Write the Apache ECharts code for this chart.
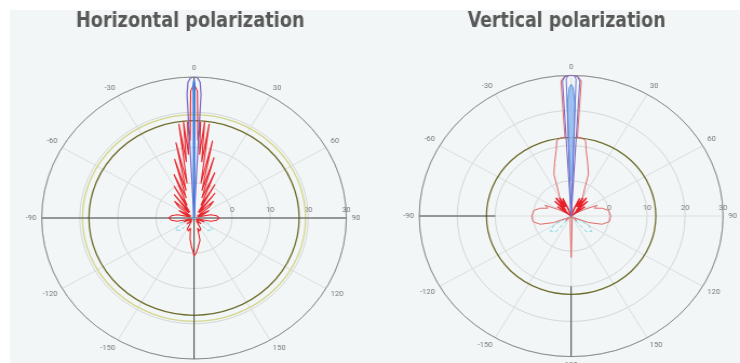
<!DOCTYPE html>
<html>
<head>
<meta charset="utf-8">
<script src="https://cdn.jsdelivr.net/npm/echarts@6/dist/echarts.min.js"></script>
<style>
html,body{margin:0;padding:0;background:#fff;overflow:hidden;}
#wrap{width:740px;height:363px;overflow:hidden;}
#chart{width:685px;height:363px;transform:scaleX(1.0803);transform-origin:0 0;}
</style>
</head>
<body>
<div id="wrap"><div id="chart"></div></div>
<script>
// ---------- data (angles in degrees, 0 = up, clockwise; radius in dB) ----------
const titles = ['Horizontal polarization', 'Vertical polarization'];
const angleTicks = [0, 30, 60, 90, 120, 150, 180, -150, -120, -90, -60, -30];
const radiusTicks = [-10, 0, 10, 20, 30];

// Horizontal polarization
const hPurple = [[-3.6,-10],[-3,25],[-2.4,28.5],[-1.5,29.6],[-0.6,30],[0,30],[0.6,30],[1.5,29.6],[2.4,28.5],[3,25],[3.6,-10]];
const hBlue = [[-0.5,-10],[-0.2,28],[0,29],[0.2,28],[0.5,-10]];
const hRed = [[-180,0.8],[-178.5,-0.5],[-177,0],[-175,-2],[-173,-1.5],[-170,-4],[-166,-3.5],[-162,-7],[-158,-6],[-150,-6.5],[-142,-9],[-132,-7.5],[-122,-9.5],[-112,-7],[-106,-9],[-102,-5.5],[-96,-4],[-90,-3.4],[-84,-4],[-78,-5.5],[-72,-9],[-66,-7],[-62,-5.5],[-57,-9],[-52,-5],[-47,-3],[-43,-8],[-38,-1.5],[-34,-8],[-30,0.5],[-27,-6],[-23,3.5],[-20,-4],[-17,7.5],[-15,-2],[-12.5,12],[-10.5,0],[-8.5,17],[-7.2,6],[-5.8,17.6],[-4.6,8],[-3.6,17.3],[-2.6,12],[-1.4,26],[0,28],[1.4,26],[2.6,12],[3.6,17.3],[4.6,8],[5.8,17.6],[7.2,6],[8.5,17],[10.5,0],[12.5,12.5],[15,-2],[17,8],[20,-4],[23,4],[27,-6],[30,1],[34,-8],[38,-1],[43,-8],[47,-3],[52,-5],[57,-9],[62,-5.5],[66,-7],[72,-9],[78,-5.5],[84,-4],[90,-3.4],[96,-4],[102,-5.5],[106,-9],[112,-7],[122,-9.5],[132,-7.5],[142,-9],[150,-6.5],[158,-6],[162,-7],[166,-3.5],[170,-4],[173,-1.5],[175,-2],[177,0],[178.5,-0.5],[180,0.8]];
const hCyan = [[-150,-10],[-135,-5],[-124,-4],[-112,-6],[-100,-10]];
const hCyan2 = [[100,-10],[112,-6],[124,-4],[135,-5],[150,-10]];
const hRings = [17.6, 19.3];
const hAxisH = [[-90,30],[0,-10],[90,30]];
const hAxisV = [[0,30],[0,-10],[180,30]];

// Vertical polarization
const vPurpleOuter = [[-4,-10],[-3.4,28.5],[-2.5,29.6],[-1.2,30],[0,30],[1.2,30],[2.5,29.6],[3.4,28.5],[4,-10]];
const vPurpleInner = [[-2.2,-10],[-1.9,29],[-1,30],[0,30],[1,30],[1.9,29],[2.2,-10]];
const vBlue = [[-2.4,-10],[-1.8,22],[-0.8,26.5],[0,27.5],[0.8,26.5],[1.8,22],[2.4,-10]];
const vPink = [[-180,1.8],[-177,-6],[-165,-9],[-150,-10],[-135,-8],[-120,-9],[-112,-5],[-106,-1.5],[-99,0.2],[-90,0.4],[-81,0],[-75,-1.5],[-70,-3.5],[-66,-2.5],[-62,-6],[-50,-9],[-40,-6],[-30,-4],[-24,-1],[-21,2.7],[-16,5.8],[-12,9],[-10,11.8],[-7,12.4],[-4.2,12.5],[-4,28.5],[-2.5,29.8],[0,30],[2.5,29.8],[4,28.5],[4.2,12.5],[7,12.4],[10,11.8],[12,9],[16,5.8],[21,2.7],[24,-1],[30,-4],[40,-6],[50,-9],[62,-6],[66,-2.5],[70,-3.5],[75,-1.5],[81,0],[90,0.4],[99,0.2],[106,-1.5],[112,-5],[120,-9],[135,-8],[150,-10],[165,-9],[177,-6],[180,1.8]];
const vRed = [[-60,-10],[-54,-5.5],[-50,-9],[-46,-4],[-42,-8],[-38,-3.5],[-35,-7],[-31,-4],[-28,-7],[-24,-4.5],[-20,-8],[-16,-10],[16,-10],[20,-8],[24,-4.5],[28,-7],[31,-4],[35,-7],[38,-3.5],[42,-8],[46,-4],[50,-9],[54,-5.5],[60,-10]];
const vCyan = [[-150,-10],[-138,-4],[-128,-3],[-118,-5],[-108,-10]];
const vCyan2 = [[108,-10],[118,-5],[128,-3],[138,-4],[150,-10]];
const vRings = [12.3];
const vAxisH = [[-90,30],[-90,10]];
const vAxisV = [[180,30],[180,10]];

// ---------- helpers ----------
// compass angle -> angle-axis value (axis starts at the right, runs clockwise from 90 to 450)
function toAxis(a){ return ((a - 90) % 360 + 360) % 360 + 90; }
function pts(arr){ return arr.map(p => [p[1], toAxis(p[0])]); }
function fmtAngle(v){
  if (v >= 450) return '';
  let a = v % 360; if (a > 180) a -= 360; return String(a);
}

const polars = [
  {center:[179.6, 218], radius:[0, 141]},
  {center:[528.7, 216], radius:[0, 140.6]}
];

function angleAxis(i){
  return {polarIndex:i, type:'value', min:90, max:450, interval:30, startAngle:0, clockwise:true,
    axisLine:{lineStyle:{color:'#8c8c8c', width:1}},
    axisTick:{show:false},
    axisLabel:{formatter:fmtAngle, fontSize:7, color:'#777', margin:5, fontFamily:'Roboto'},
    splitLine:{lineStyle:{color:'#dcdfe0', width:1}}
  };
}
function radiusAxis(i){
  return {polarIndex:i, type:'value', min:radiusTicks[0], max:radiusTicks[radiusTicks.length-1], interval:10,
    axisLine:{show:false}, axisTick:{show:false},
    axisLabel:{showMinLabel:false, fontSize:7, color:'#777', margin:4, fontFamily:'Roboto'},
    splitLine:{lineStyle:{color:'#d4d8d9', width:1}}
  };
}
function lineS(i, data, color, width, extra){
  return Object.assign({type:'line', coordinateSystem:'polar', polarIndex:i, data:pts(data),
    showSymbol:false, symbol:'none', silent:true, clip:true,
    lineStyle:{color:color, width:width}}, extra||{});
}
function ringS(i, vals, colors){
  return {type:'custom', coordinateSystem:'polar', polarIndex:i, silent:true,
    data: vals.map((v,k)=>[v, 90, k]),
    renderItem: function(params, api){
      const c = api.coord([radiusTicks[0], 90]);
      const p = api.coord([api.value(0), 90]);
      const r = Math.hypot(p[0]-c[0], p[1]-c[1]);
      return {type:'circle', shape:{cx:c[0], cy:c[1], r:r},
        style:{fill:'none', stroke:colors[api.value(2)], lineWidth:1.3}};
    }};
}

const series = [
  // left
  ringS(0, hRings, ['#6e6e2c', '#d3d68a']),
  lineS(0, hAxisH, '#444', 1),
  lineS(0, hAxisV, '#444', 1),
  lineS(0, hCyan, '#7fd6e6', 1, {lineStyle:{color:'#7fd6e6', width:1, type:'dashed'}}),
  lineS(0, hCyan2, '#7fd6e6', 1, {lineStyle:{color:'#7fd6e6', width:1, type:'dashed'}}),
  lineS(0, hRed, '#e8262c', 1.1),
  lineS(0, hPurple, '#7563c8', 1.2),
  lineS(0, hBlue, '#3b7de0', 1.8),
  // right
  ringS(1, vRings, ['#6e6e2c']),
  lineS(1, vAxisH, '#444', 1),
  lineS(1, vAxisV, '#444', 1),
  lineS(1, vCyan, '#7fd6e6', 1, {lineStyle:{color:'#7fd6e6', width:1, type:'dashed'}}),
  lineS(1, vCyan2, '#7fd6e6', 1, {lineStyle:{color:'#7fd6e6', width:1, type:'dashed'}}),
  lineS(1, vBlue, '#5d93df', 1, {areaStyle:{color:'#8fbaf0', opacity:0.85}}),
  lineS(1, vPink, '#e06a6a', 1),
  lineS(1, vRed, '#e8202a', 1.4),
  lineS(1, vPurpleOuter, '#7a68c6', 1.1),
  lineS(1, vPurpleInner, '#6d78d2', 1)
];

const titleFont = 'bold 21px "DejaVu Sans", sans-serif';
const chart = echarts.init(document.getElementById('chart'), null, {renderer:'canvas'});
chart.setOption({
  animation:false,
  backgroundColor:'#ffffff',
  graphic:[
    {type:'rect', z:-10, silent:true, shape:{x:9.3, y:10, width:700, height:360}, style:{fill:'#f3f6f6'}},
    {type:'text', silent:true, x:176, y:22, scaleX:0.78, style:{text:titles[0], font:titleFont, fill:'#585858', align:'center', verticalAlign:'middle', textAlign:'center', textVerticalAlign:'middle'}},
    {type:'text', silent:true, x:524.5, y:22, scaleX:0.765, style:{text:titles[1], font:titleFont, fill:'#585858', align:'center', verticalAlign:'middle', textAlign:'center', textVerticalAlign:'middle'}}
  ],
  polar: polars,
  angleAxis: [angleAxis(0), angleAxis(1)],
  radiusAxis: [radiusAxis(0), radiusAxis(1)],
  series: series
});
</script>
</body>
</html>
